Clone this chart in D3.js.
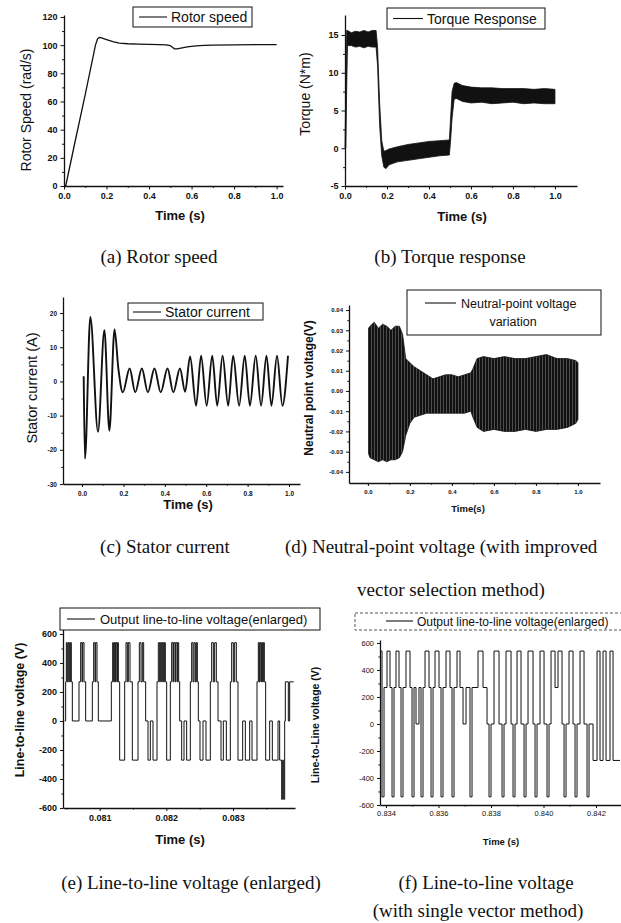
<!DOCTYPE html>
<html><head><meta charset="utf-8">
<script src="https://cdn.jsdelivr.net/npm/d3@7"></script>
<style>
html,body{margin:0;padding:0;background:#fff;}
svg{display:block;}
</style></head><body>
<svg id="chart" width="621" height="923"></svg>
<script>
// ---------------- DATA ----------------
// (a) rotor speed
const aTime  = [0, 0.008, 0.05, 0.1, 0.148, 0.158, 0.168, 0.18, 0.2, 0.23, 0.26, 0.3, 0.35, 0.4, 0.45, 0.48, 0.5, 0.51, 0.52, 0.53, 0.55, 0.58, 0.62, 0.66, 0.7, 0.8, 0.9, 1.0];
const aSpeed = [0, 0, 30, 65, 100, 104.5, 105.5, 105, 104, 102.5, 101.5, 101, 100.7, 100.5, 100.4, 100.2, 99.6, 98.5, 97.3, 97.3, 97.9, 98.8, 99.5, 99.8, 100, 100.2, 100.3, 100.4];
// (b) torque response: noisy band, upper / lower envelope
const bTime  = [0, 0.004, 0.008, 0.012, 0.03, 0.05, 0.07, 0.09, 0.11, 0.13, 0.148, 0.155, 0.165, 0.175, 0.185, 0.195, 0.21, 0.25, 0.3, 0.35, 0.4, 0.45, 0.497, 0.503, 0.51, 0.52, 0.53, 0.56, 0.6, 0.65, 0.7, 0.75, 0.8, 0.85, 0.9, 0.95, 1.0];
const bUpper = [0, 8, 15.6, 15.6, 15.3, 15.5, 15.4, 15.6, 15.4, 15.6, 15.6, 13.5, 6, 1, -0.4, -0.3, -0.1, 0.2, 0.5, 0.7, 0.9, 1.0, 1.1, 4, 7.5, 8.6, 8.7, 8.3, 8.1, 8.0, 8.0, 7.9, 7.9, 7.9, 7.8, 7.9, 7.8];
const bLower = [0, 0, 8, 13.6, 13.6, 13.4, 13.5, 13.3, 13.5, 13.4, 13.4, 11, 3, -1, -2.5, -2.7, -2.2, -1.8, -1.6, -1.4, -1.2, -1.0, -0.9, 1, 4, 6.5, 6.6, 6.2, 6.0, 6.1, 5.9, 6.0, 6.1, 5.9, 6.0, 5.9, 5.9];
// (c) stator current: turning points of the waveform
const cTime    = [0.008, 0.014, 0.04, 0.077, 0.108, 0.132, 0.157, 0.175, 0.197, 0.23, 0.257, 0.289, 0.318, 0.35, 0.38, 0.413, 0.441, 0.473, 0.498, 0.522, 0.551, 0.575, 0.602, 0.629, 0.653, 0.679, 0.706, 0.73, 0.759, 0.786, 0.811, 0.839, 0.865, 0.891, 0.915, 0.942, 0.968, 0.995];
const cCurrent = [1.5, -22.6, 18.9, -14.7, 15, -14.4, 15.2, 4, -3.2, 3.8, -3.2, 3.8, -3.2, 3.8, -3.2, 3.8, -3.2, 3.8, -3, 7.3, -7.1, 7.5, -7.1, 7.5, -7.1, 7.5, -7.1, 7.5, -7.1, 7.5, -7.1, 7.5, -7.1, 7.5, -7.1, 7.5, -7.1, 7.5];
// (d) neutral-point voltage: band envelope
const dTime  = [0.003, 0.01, 0.03, 0.05, 0.07, 0.09, 0.11, 0.13, 0.15, 0.165, 0.18, 0.2, 0.22, 0.25, 0.28, 0.31, 0.34, 0.37, 0.4, 0.43, 0.46, 0.49, 0.5, 0.52, 0.55, 0.6, 0.65, 0.7, 0.75, 0.8, 0.85, 0.9, 0.95, 0.99, 1.0];
const dUpper = [0.031, 0.032, 0.034, 0.031, 0.033, 0.032, 0.030, 0.032, 0.032, 0.028, 0.016, 0.014, 0.012, 0.010, 0.008, 0.006, 0.007, 0.008, 0.008, 0.007, 0.008, 0.009, 0.011, 0.016, 0.017, 0.016, 0.017, 0.016, 0.016, 0.017, 0.018, 0.016, 0.016, 0.015, 0.014];
const dLower = [-0.031, -0.033, -0.034, -0.035, -0.034, -0.035, -0.034, -0.034, -0.033, -0.030, -0.022, -0.016, -0.013, -0.012, -0.011, -0.011, -0.011, -0.011, -0.011, -0.011, -0.011, -0.010, -0.013, -0.018, -0.020, -0.019, -0.020, -0.020, -0.019, -0.020, -0.019, -0.019, -0.018, -0.016, -0.014];
// (e) output line-to-line voltage (enlarged): [time s, level V] step points
const eWave = [[0.080475,0],[0.08049,270],[0.0805,540],[0.080515,270],[0.08053,540],[0.08055,270],[0.08056,540],[0.080575,270],[0.08059,0],[0.08069,270],[0.080715,540],[0.080735,270],[0.080745,540],[0.080765,270],[0.08079,0],[0.08089,270],[0.08091,540],[0.08093,270],[0.08094,540],[0.08096,270],[0.08098,0],[0.081175,270],[0.081195,540],[0.08121,270],[0.08122,540],[0.081235,270],[0.081245,540],[0.08126,270],[0.08127,540],[0.08128,270],[0.0813,-270],[0.081375,270],[0.081395,540],[0.081415,270],[0.08143,540],[0.081455,270],[0.08149,-270],[0.081575,270],[0.081595,540],[0.08162,270],[0.08164,540],[0.08166,270],[0.08169,0],[0.081725,-270],[0.08176,0],[0.0818,-270],[0.08186,270],[0.08188,540],[0.0819,270],[0.08191,540],[0.08193,270],[0.08194,540],[0.08196,270],[0.08197,540],[0.081985,270],[0.082005,-270],[0.08206,270],[0.08208,540],[0.0821,270],[0.08211,540],[0.08213,270],[0.08214,540],[0.08216,270],[0.08217,540],[0.082185,270],[0.0822,0],[0.08223,-270],[0.082265,0],[0.082305,-270],[0.08236,270],[0.08238,540],[0.0824,270],[0.082415,540],[0.082435,270],[0.08245,540],[0.082465,270],[0.08248,0],[0.082505,-270],[0.08255,0],[0.082595,-270],[0.08266,270],[0.08268,540],[0.082705,270],[0.082725,540],[0.08275,270],[0.082775,0],[0.08282,-270],[0.082855,0],[0.0829,-270],[0.08296,270],[0.08298,540],[0.083005,270],[0.083025,540],[0.08305,270],[0.083075,-270],[0.083145,0],[0.083185,-270],[0.08325,0],[0.083285,-270],[0.08336,270],[0.08338,540],[0.083395,270],[0.083405,540],[0.08342,270],[0.08343,540],[0.083445,270],[0.083455,540],[0.08347,270],[0.08349,-270],[0.08355,0],[0.08359,-270],[0.083675,0],[0.0837,-270],[0.08373,-540],[0.083745,-270],[0.08376,-540],[0.083775,0],[0.083785,270],[0.08383,0],[0.08385,270],[0.08391,270]];
// (f) line-to-line voltage with single vector method: [time s, level V]
const fWave = [[0.833771,540],[0.833848,-540],[0.833924,270],[0.834038,540],[0.834152,270],[0.834229,-540],[0.834305,270],[0.834381,540],[0.834495,270],[0.834572,-540],[0.834648,270],[0.834762,540],[0.834914,270],[0.834991,-540],[0.835067,270],[0.835143,0],[0.835257,270],[0.835334,-540],[0.83541,270],[0.835486,540],[0.835638,270],[0.835715,-540],[0.835791,270],[0.835867,540],[0.836019,270],[0.836096,-540],[0.836172,270],[0.836286,540],[0.836438,270],[0.836515,-540],[0.836591,270],[0.836705,540],[0.836819,270],[0.836934,0],[0.837048,270],[0.8372,-540],[0.837277,270],[0.837505,540],[0.837696,270],[0.837848,0],[0.837924,-540],[0.838001,0],[0.838115,540],[0.838305,0],[0.83842,-540],[0.838496,0],[0.838572,540],[0.838763,0],[0.838839,-540],[0.838915,0],[0.838991,540],[0.839144,0],[0.839258,-540],[0.839334,0],[0.83941,540],[0.839601,0],[0.839677,-540],[0.839753,0],[0.839867,540],[0.84002,0],[0.840134,-540],[0.84021,0],[0.840287,540],[0.840439,270],[0.840553,540],[0.840706,0],[0.840782,-540],[0.840858,0],[0.840972,540],[0.841125,0],[0.841201,-540],[0.841277,0],[0.841391,540],[0.841544,0],[0.841658,-540],[0.841734,0],[0.841887,-270],[0.842039,540],[0.842153,-270],[0.842268,540],[0.842382,-270],[0.842534,540],[0.842649,-270],[0.842915,-270]];

// tick values / labels
const tTicks = [0, 0.2, 0.4, 0.6, 0.8, 1.0];
const tLabels = ["0.0", "0.2", "0.4", "0.6", "0.8", "1.0"];
const tMinor = [0.1, 0.3, 0.5, 0.7, 0.9];
const aYTicks = [0, 20, 40, 60, 80, 100, 120];
const aYLabels = ["0", "20", "40", "60", "80", "100", "120"];
const bYTicks = [-5, 0, 5, 10, 15];
const bYLabels = ["-5", "0", "5", "10", "15"];
const cYTicks = [-30, -20, -10, 0, 10, 20];
const cYLabels = ["-30", "-20", "-10", "0", "10", "20"];
const dYTicks = [-0.04, -0.03, -0.02, -0.01, 0, 0.01, 0.02, 0.03, 0.04];
const dYLabels = ["-0.04", "-0.03", "-0.02", "-0.01", "0.00", "0.01", "0.02", "0.03", "0.04"];
const vTicks = [-600, -400, -200, 0, 200, 400, 600];
const vLabels = ["-600", "-400", "-200", "0", "200", "400", "600"];
const eXTicks = [0.081, 0.082, 0.083];
const eXLabels = ["0.081", "0.082", "0.083"];
const fXTicks = [0.834, 0.836, 0.838, 0.840, 0.842];
const fXLabels = ["0.834", "0.836", "0.838", "0.840", "0.842"];

// ---------------- DRAWING ----------------
const svg = d3.select('#chart');
const INK = '#111';
const SANS = '"Liberation Sans", Arial, Helvetica, sans-serif';
const SERIF = '"Liberation Serif", "Times New Roman", Times, serif';

// texture for the dense switching band in (d)
const pat = svg.append('defs').append('pattern').attr('id', 'dense')
  .attr('patternUnits', 'userSpaceOnUse').attr('width', 3).attr('height', 6);
pat.append('rect').attr('width', 3).attr('height', 6).attr('fill', INK);
pat.append('rect').attr('x', 2.2).attr('width', 0.6).attr('height', 6).attr('fill', '#777');

function panel(o) {
  const g = svg.append('g');
  const x = d3.scaleLinear().domain(o.xDomain).range(o.xRange);
  const y = d3.scaleLinear().domain(o.yDomain).range(o.yRange);
  const y0 = o.yRange[0], x0 = o.xRange[0];
  const fx = d => o.xLabels[o.xTicks.indexOf(d)];
  const fy = d => o.yLabels[o.yTicks.indexOf(d)];
  g.append('g').attr('transform', `translate(0,${y0})`)
    .call(d3.axisBottom(x).tickValues(o.xTicks).tickFormat(fx).tickSize(o.tk).tickSizeOuter(0).tickPadding(o.xPad));
  g.append('g').attr('transform', `translate(0,${y0})`)
    .call(d3.axisBottom(x).tickValues(o.xMinor).tickFormat(() => '').tickSize(o.tk * 0.55).tickSizeOuter(0))
    .select('.domain').remove();
  g.append('g').attr('transform', `translate(${x0},0)`)
    .call(d3.axisLeft(y).tickValues(o.yTicks).tickFormat(fy).tickSize(o.tk).tickSizeOuter(0).tickPadding(o.yPad));
  g.append('g').attr('transform', `translate(${x0},0)`)
    .call(d3.axisLeft(y).tickValues(o.yMinor).tickFormat(() => '').tickSize(o.tk * 0.55).tickSizeOuter(0))
    .select('.domain').remove();
  g.selectAll('.domain').attr('stroke', INK).attr('stroke-width', o.axW || 1.3);
  g.selectAll('.tick line').attr('stroke', INK).attr('stroke-width', 1);
  g.selectAll('.tick text').attr('fill', INK).attr('font-family', SANS)
    .attr('font-weight', o.tickWeight || 'bold').attr('font-size', o.tickSize);
  return { g, x, y };
}

function text(t, x, y, size, opt = {}) {
  const el = svg.append('text').attr('x', x).attr('y', y).text(t)
    .attr('font-family', opt.family || SANS).attr('font-size', size)
    .attr('font-weight', opt.weight || 'normal').attr('fill', INK)
    .attr('text-anchor', opt.anchor || 'middle');
  if (opt.rotate) el.attr('transform', `rotate(-90,${x},${y})`).attr('dominant-baseline', 'central');
  return el;
}

function legend(o) {
  svg.append('rect').attr('x', o.x).attr('y', o.y).attr('width', o.w).attr('height', o.h)
    .attr('fill', '#fff').attr('stroke', o.dash ? '#555' : INK).attr('stroke-width', 1)
    .attr('stroke-dasharray', o.dash || null);
  svg.append('line').attr('x1', o.l1).attr('x2', o.l2).attr('y1', o.ly).attr('y2', o.ly)
    .attr('stroke', INK).attr('stroke-width', 1.1);
  o.lines.forEach(l => text(l[0], l[1], l[2], o.size, { anchor: l[3] || 'start' }));
}

// ----- (a) Rotor speed -----
{
  const p = panel({ xDomain: [0, 1.03], xRange: [64, 283], yDomain: [0, 121.4], yRange: [186, 15],
    xTicks: tTicks, xLabels: tLabels, xMinor: tMinor,
    yTicks: aYTicks, yLabels: aYLabels, yMinor: [10, 30, 50, 70, 90, 110],
    tk: 3.5, xPad: 3, yPad: 3, tickSize: 9 });
  p.g.append('path').datum(aTime.map((t, i) => [t, aSpeed[i]]))
    .attr('fill', 'none').attr('stroke', INK).attr('stroke-width', 1.3).attr('stroke-linejoin', 'round')
    .attr('d', d3.line().x(d => p.x(d[0])).y(d => p.y(d[1])));
  legend({ x: 133, y: 7, w: 119, h: 20, l1: 139, l2: 167, ly: 17, size: 14, lines: [["Rotor speed", 171, 22]] });
  text("Rotor Speed (rad/s)", 26, 110, 14, { rotate: true });
  text("Time (s)", 180, 220, 13, { weight: 'bold' });
  text("(a) Rotor speed", 159, 263, 19, { family: SERIF });
}

// ----- (b) Torque response -----
{
  const p = panel({ xDomain: [0, 1.105], xRange: [345, 577], yDomain: [-5, 17.65], yRange: [186, 15],
    xTicks: tTicks, xLabels: tLabels, xMinor: tMinor,
    yTicks: bYTicks, yLabels: bYLabels, yMinor: [-2.5, 2.5, 7.5, 12.5],
    tk: 3.5, xPad: 3, yPad: 3, tickSize: 9 });
  const band = bTime.map((t, i) => [t, bUpper[i], bLower[i]]);
  p.g.append('path').datum(band).attr('fill', INK).attr('stroke', INK).attr('stroke-width', 0.8)
    .attr('d', d3.area().x(d => p.x(d[0])).y0(d => p.y(d[2])).y1(d => p.y(d[1])));
  legend({ x: 387, y: 8, w: 158, h: 21, l1: 393, l2: 423, ly: 18.5, size: 14, lines: [["Torque Response", 427, 23.5]] });
  text("Torque (N*m)", 305, 94, 14, { rotate: true });
  text("Time (s)", 462, 221, 13, { weight: 'bold' });
  text("(b) Torque response", 450, 263, 19, { family: SERIF });
}

// ----- (c) Stator current -----
{
  const p = panel({ xDomain: [-0.092, 1.053], xRange: [63, 300], yDomain: [-30, 24.7], yRange: [484, 297],
    xTicks: tTicks, xLabels: tLabels, xMinor: tMinor,
    yTicks: cYTicks, yLabels: cYLabels, yMinor: [-25, -15, -5, 5, 15],
    tk: 3, xPad: 4, yPad: 3, tickSize: 6.5 });
  p.g.append('path').datum(cTime.map((t, i) => [t, cCurrent[i]]))
    .attr('fill', 'none').attr('stroke', INK).attr('stroke-width', 1.9)
    .attr('d', d3.line().x(d => p.x(d[0])).y(d => p.y(d[1])).curve(d3.curveMonotoneX));
  legend({ x: 128, y: 303, w: 135, h: 17, l1: 133, l2: 161, ly: 312, size: 14, lines: [["Stator current", 165, 317]] });
  text("Stator current (A)", 32, 388, 14.5, { rotate: true });
  text("Time (s)", 188, 509, 13, { weight: 'bold' });
  text("(c) Stator current", 165, 553, 19, { family: SERIF });
}

// ----- (d) Neutral-point voltage -----
{
  const p = panel({ xDomain: [-0.09, 1.105], xRange: [349, 600], yDomain: [-0.0455, 0.0425], yRange: [483, 305],
    xTicks: tTicks, xLabels: tLabels, xMinor: tMinor,
    yTicks: dYTicks, yLabels: dYLabels, yMinor: [-0.035, -0.025, -0.015, -0.005, 0.005, 0.015, 0.025, 0.035],
    tk: 3, xPad: 4, yPad: 3, tickSize: 6 });
  const band = dTime.map((t, i) => [t, dUpper[i], dLower[i]]);
  p.g.append('path').datum(band).attr('fill', 'url(#dense)').attr('stroke', INK).attr('stroke-width', 0.8)
    .attr('d', d3.area().x(d => p.x(d[0])).y0(d => p.y(d[2])).y1(d => p.y(d[1])));
  legend({ x: 407, y: 290, w: 194, h: 45, l1: 425, l2: 456, ly: 303, size: 12.5,
    lines: [["Neutral-point voltage", 461, 307.5], ["variation", 513, 326, 'middle']] });
  text("Neutral point voltage(V)", 309, 388, 12, { rotate: true, weight: 'bold' });
  text("Time(s)", 468, 512, 9.5, { weight: 'bold' });
  text("(d) Neutral-point voltage (with improved", 285, 553, 19, { family: SERIF, anchor: 'start' });
  text("vector selection method)", 451, 596, 19, { family: SERIF });
}

// ----- (e) Output line-to-line voltage (enlarged) -----
{
  const p = panel({ xDomain: [0.08045, 0.08393], xRange: [63, 295], yDomain: [-600, 779], yRange: [808, 608],
    xTicks: eXTicks, xLabels: eXLabels, xMinor: [0.0805, 0.0815, 0.0825, 0.0835],
    yTicks: vTicks, yLabels: vLabels, yMinor: [-500, -300, -100, 100, 300, 500],
    tk: 3, xPad: 4, yPad: 3, tickSize: 9 });
  p.g.append('path').datum(eWave).attr('fill', 'none').attr('stroke', INK).attr('stroke-width', 1)
    .attr('d', d3.line().x(d => p.x(d[0])).y(d => p.y(d[1])).curve(d3.curveStepAfter));
  legend({ x: 60, y: 608, w: 260, h: 22, l1: 67, l2: 95, ly: 619, size: 13, lines: [["Output line-to-line voltage(enlarged)", 100, 623.5]] });
  text("Line-to-line voltage (V)", 20, 710, 12.5, { rotate: true, weight: 'bold' });
  text("Time (s)", 180, 844, 13, { weight: 'bold' });
  text("(e) Line-to-line voltage (enlarged)", 191, 889, 19, { family: SERIF });
}

// ----- (f) Line-to-line voltage, single vector method -----
{
  const p = panel({ xDomain: [0.833771, 0.842952], xRange: [380, 621], yDomain: [-600, 622], yRange: [805, 640],
    xTicks: fXTicks, xLabels: fXLabels, xMinor: [0.835, 0.837, 0.839, 0.841],
    yTicks: vTicks, yLabels: vLabels, yMinor: [-500, -300, -100, 100, 300, 500],
    tk: 3, xPad: 3, yPad: 3, tickSize: 7.5, tickWeight: 'normal' });
  p.g.append('path').datum(fWave).attr('fill', 'none').attr('stroke', INK).attr('stroke-width', 1)
    .attr('d', d3.line().x(d => p.x(d[0])).y(d => p.y(d[1])).curve(d3.curveStepAfter));
  legend({ x: 355, y: 613, w: 270, h: 17, l1: 386, l2: 413, ly: 621, size: 12, dash: '3,2',
    lines: [["Output line-to-line voltage(enlarged)", 417, 625.5]] });
  text("Line-to-Line voltage (V)", 315, 725, 10.5, { rotate: true, weight: 'bold' });
  text("Time (s)", 501, 845, 9.5, { weight: 'bold' });
  text("(f) Line-to-line voltage", 486, 889, 19, { family: SERIF });
  text("(with single vector method)", 478, 917, 19, { family: SERIF });
}
</script></body></html>
